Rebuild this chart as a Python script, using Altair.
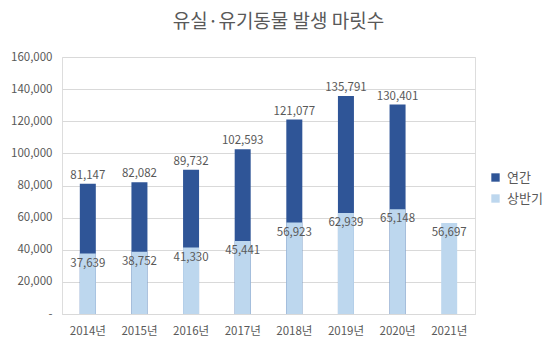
import altair as alt
import pandas as pd

years = ["2014년", "2015년", "2016년", "2017년", "2018년", "2019년", "2020년", "2021년"]
annual = [81147, 82082, 89732, 102593, 121077, 135791, 130401, None]
first_half = [37639, 38752, 41330, 45441, 56923, 62939, 65148, 56697]

rows = []
for y, a in zip(years, annual):
    if a is not None:
        rows.append({"year": y, "series": "연간", "value": a})
for y, h in zip(years, first_half):
    rows.append({"year": y, "series": "상반기", "value": h})
df = pd.DataFrame(rows)

FONT = "Noto Sans CJK KR"
GRAY = "#595959"

x = alt.X("year:N", sort=years, title=None,
          scale=alt.Scale(paddingInner=0.69, paddingOuter=0.345),
          axis=alt.Axis(labelAngle=0, ticks=False, domainColor="#D9D9D9",
                        labelPadding=11, labelFontSize=11.5, labelColor=GRAY, labelFont=FONT))
y = alt.Y("value:Q", title=None,
          scale=alt.Scale(domain=[0, 160000]),
          axis=alt.Axis(values=list(range(0, 160001, 20000)), ticks=False, domain=False,
                        gridColor="#D9D9D9", labelPadding=10, labelFontSize=11.5,
                        labelColor=GRAY, labelFont=FONT,
                        labelExpr="datum.value == 0 ? '-' : format(datum.value, ',')"))
color = alt.Color("series:N", title=None,
                  scale=alt.Scale(domain=["연간", "상반기"], range=["#2F5597", "#BDD7EE"]),
                  legend=alt.Legend(orient="none", legendX=427, legendY=114,
                                    symbolType="square", symbolSize=70, symbolStrokeWidth=0,
                                    labelFontSize=13, labelColor=GRAY, labelFont=FONT,
                                    rowPadding=7, labelOffset=5))

base = alt.Chart(df)
bars_total = base.transform_filter(alt.datum.series == "연간").mark_bar().encode(x=x, y=y, color=color)
bars_half = base.transform_filter(alt.datum.series == "상반기").mark_bar().encode(x=x, y=y, color=color)
text_total = base.transform_filter(alt.datum.series == "연간").mark_text(
    baseline="bottom", dy=-3, fontSize=11.5, font=FONT, color=GRAY
).encode(x=x, y=y, text=alt.Text("value:Q", format=","))
text_half = base.transform_filter(alt.datum.series == "상반기").mark_text(
    baseline="middle", dy=10, fontSize=11.5, font=FONT, color=GRAY
).encode(x=x, y=y, text=alt.Text("value:Q", format=","))

chart = alt.layer(bars_total, bars_half, text_total, text_half).properties(
    width=413, height=257,
    autosize=alt.AutoSizeParams(type="none"),
    padding={"left": 62, "top": 57, "right": 80, "bottom": 38},
    title=alt.TitleParams("유실·유기동물 발생 마릿수", fontSize=19, font=FONT, color=GRAY,
                          fontWeight="normal", anchor="middle", dx=10, offset=19),
).configure_view(stroke=None).configure(background="white")

chart.save("out.html", embed_options={"renderer": "svg", "actions": False})
